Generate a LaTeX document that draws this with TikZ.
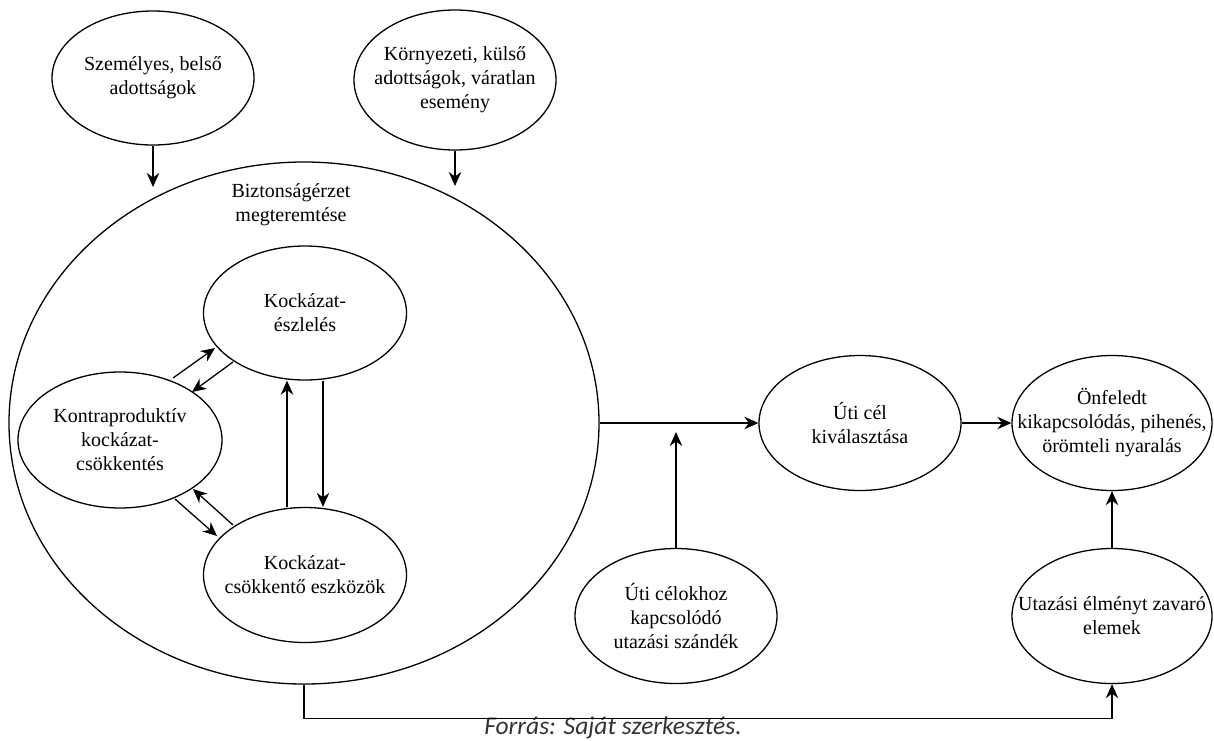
\documentclass[tikz,border=0pt]{standalone}
\usepackage{fontspec}
\setmainfont{Liberation Serif}
\newfontfamily\capfont{Carlito}
\usetikzlibrary{shapes.geometric,arrows.meta,calc}
\definecolor{capgray}{HTML}{333333}
\begin{document}
\begin{tikzpicture}[x=1pt,y=-1pt,
  ell/.style={draw, ellipse, line width=1.3pt, inner sep=0pt},
  lbl/.style={align=center, font=\fontsize{20}{24}\selectfont},
  arr/.style={line width=1.3pt, -{Stealth[length=14pt,width=12.5pt,inset=4.5pt]}},
  ln/.style={line width=1.3pt}]
\useasboundingbox (0,0) rectangle (1214,740);

% outer nodes
\node[ell, minimum width=202pt, minimum height=134pt,
  label={[lbl]center:{Személyes, belső\\adottságok}}] (A) at (153,78) {};
\node[ell, minimum width=202pt, minimum height=140pt,
  label={[lbl]center:{Környezeti, külső\\adottságok, váratlan\\esemény}}] (B) at (455,80) {};

% big circle
\node[ell, minimum width=590pt, minimum height=522pt] (big) at (304,423) {};
\node[lbl] (bt) at (291,205) {Biztonságérzet\\megteremtése};

% inner nodes
\node[ell, minimum width=203pt, minimum height=134pt,
  label={[lbl]center:{Kockázat-\\észlelés}}] (KE) at (305,313) {};
\node[ell, minimum width=204pt, minimum height=136pt,
  label={[lbl]center:{Kontraproduktív\\kockázat-\\csökkentés}}] (KO) at (120,440) {};
\node[ell, minimum width=203pt, minimum height=135pt,
  label={[lbl]center:{Kockázat-\\csökkentő eszközök}}] (KC) at (305,575) {};

% right nodes
\node[ell, minimum width=202pt, minimum height=135pt,
  label={[lbl]center:{Úti cél\\kiválasztása}}] (UC) at (860,423) {};
\node[ell, minimum width=200pt, minimum height=135pt,
  label={[lbl]center:{Önfeledt\\kikapcsolódás, pihenés,\\örömteli nyaralás}}] (ON) at (1112,423) {};
\node[ell, minimum width=200pt, minimum height=135pt,
  label={[lbl]center:{Utazási élményt zavaró\\elemek}}] (UT) at (1112,616) {};
\node[ell, minimum width=202pt, minimum height=135pt,
  label={[lbl]center:{Úti célokhoz\\kapcsolódó\\utazási szándék}}] (UCK) at (676,616) {};

% caption
\node[font=\capfont\itshape\fontsize{25.5}{28}\selectfont, text=capgray, anchor=base, inner sep=0pt] (cap) at (613,734) {Forrás: Saját szerkesztés.};

% free ends
\coordinate (a1) at (153,187);
\coordinate (b1) at (455,186);
\coordinate (u1) at (676,432);

% connectors
\draw[arr] (A) -- (a1);
\draw[arr] (B) -- (b1);
\draw[arr] (big.east) -- (UC.west);
\draw[arr] (UCK) -- (u1);
\draw[arr] (UC.east) -- (ON.west);
\draw[arr] (UT) -- (ON);
\draw[arr] (big.south) -- ++(0,34) -| (UT.south);

\draw[arr] ($(KO)+(53,-62)$) -- ($(KE)+(-90,35)$);
\draw[arr] ($(KE)+(-72,49)$) -- ($(KO)+(72,-48)$);
\draw[arr] ($(KO)+(55,59)$) -- ($(KC)+(-88,-39)$);
\draw[arr] ($(KC)+(-72,-50)$) -- ($(KO)+(73,49)$);
\draw[arr] ($(KC.north)+(-18,0)$) -- ($(KE.south)+(-18,0)$);
\draw[arr] ($(KE.south)+(18,0)$) -- ($(KC.north)+(18,0)$);
\end{tikzpicture}
\end{document}
